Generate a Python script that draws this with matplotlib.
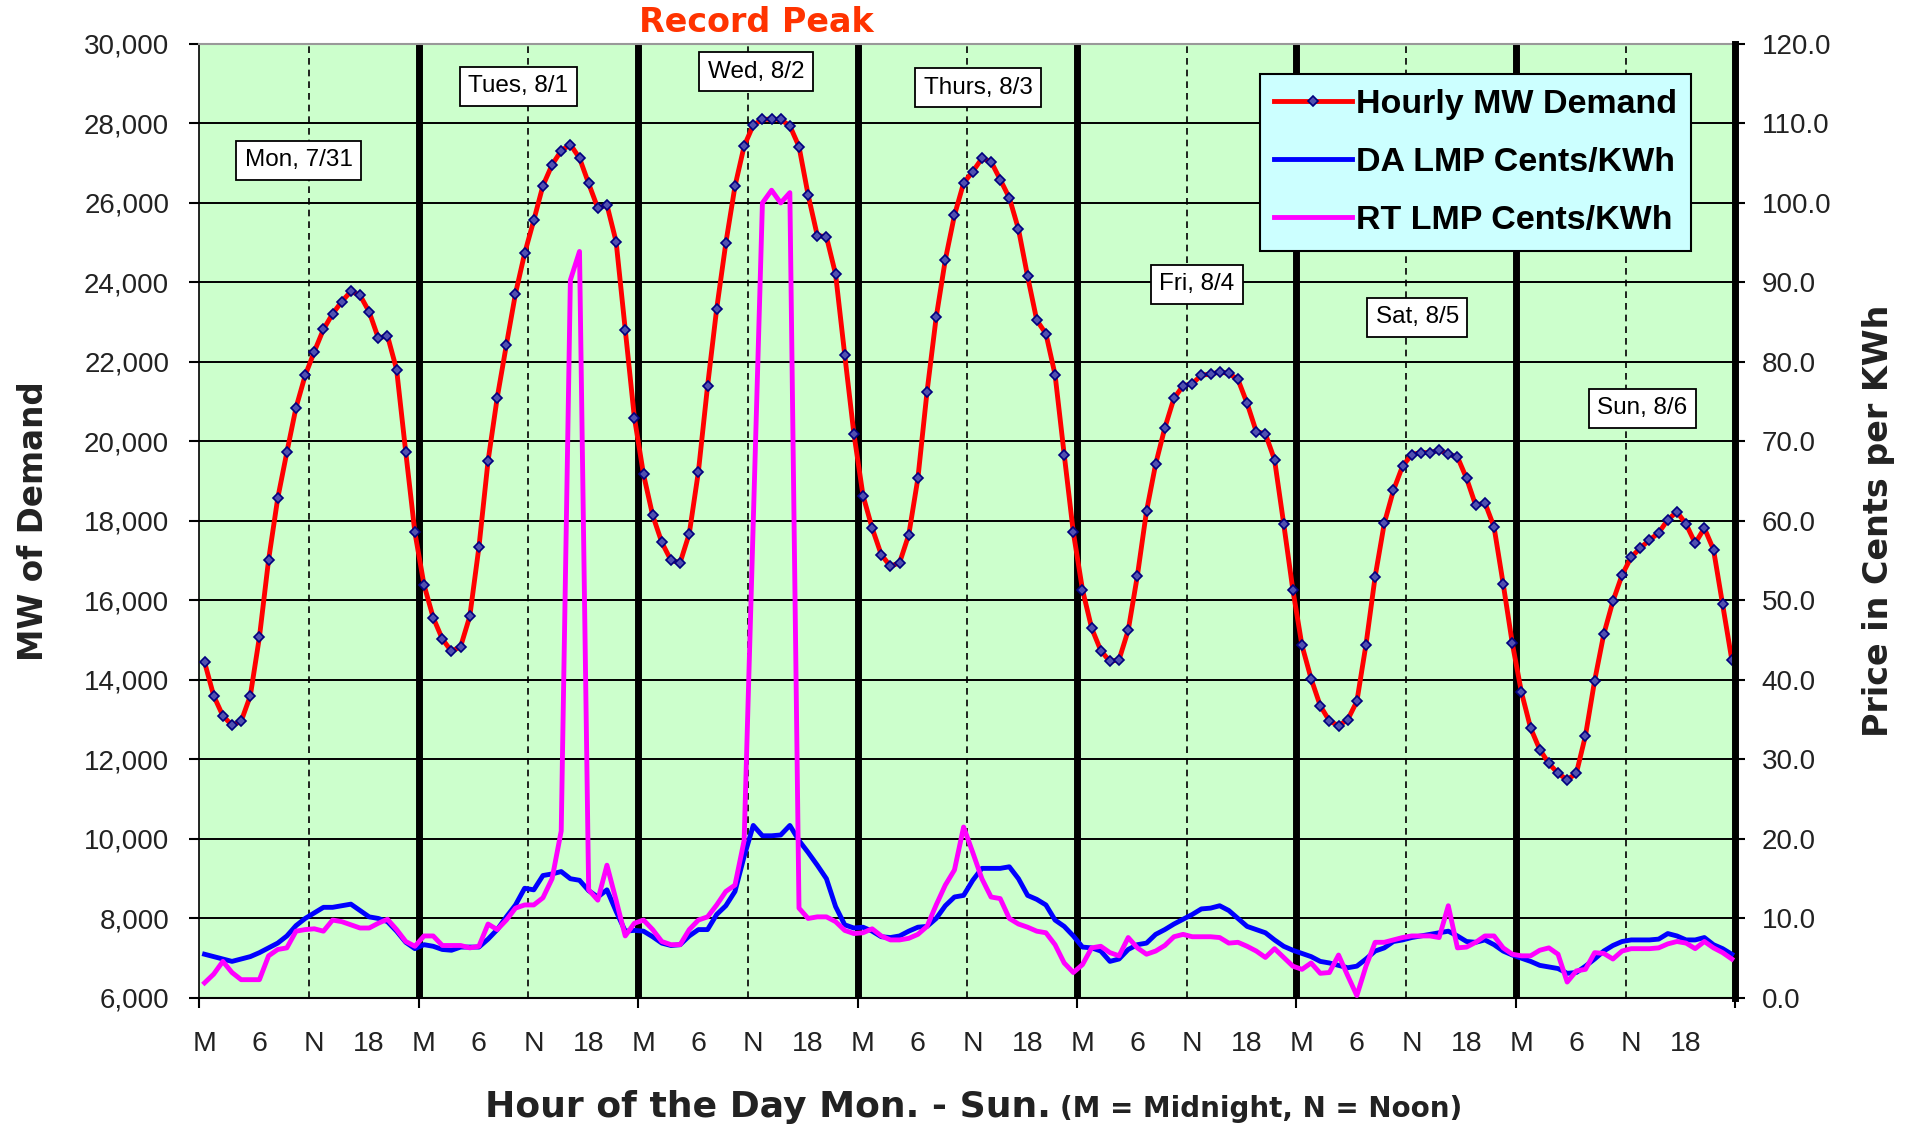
import numpy as np
import matplotlib.pyplot as plt
from matplotlib.lines import Line2D

# hourly values, Mon 7/31 .. Sun 8/6 (24 per row)
demand_mw = [
    14450, 13600, 13100, 12860, 12960, 13600, 15080, 17020, 18570, 19730, 20850, 21660,
    22260, 22820, 23210, 23520, 23775, 23680, 23260, 22600, 22660, 21810, 19730, 17710,
    16390, 15570, 15030, 14720, 14840, 15600, 17340, 19510, 21100, 22425, 23720, 24730,
    25565, 26435, 26960, 27315, 27470, 27130, 26490, 25870, 25950, 25030, 22810, 20600,
    19170, 18140, 17460, 17010, 16950, 17680, 19240, 21390, 23340, 24990, 26420, 27430,
    27960, 28100, 28110, 28100, 27940, 27420, 26200, 25180, 25150, 24210, 22180, 20200,
    18640, 17820, 17150, 16860, 16950, 17650, 19070, 21250, 23120, 24570, 25690, 26500,
    26790, 27120, 27040, 26590, 26130, 25340, 24150, 23050, 22710, 21680, 19670, 17710,
    16270, 15305, 14740, 14465, 14510, 15250, 16620, 18245, 19430, 20340, 21085, 21400,
    21450, 21670, 21690, 21750, 21710, 21560, 20960, 20250, 20190, 19540, 17930, 16270,
    14870, 14030, 13350, 12970, 12850, 13000, 13460, 14890, 16600, 17940, 18770, 19380,
    19670, 19720, 19720, 19780, 19680, 19610, 19070, 18390, 18460, 17850, 16420, 14920,
    13690, 12790, 12250, 11900, 11650, 11490, 11650, 12600, 13980, 15150, 15980, 16640,
    17090, 17320, 17520, 17700, 18030, 18230, 17920, 17440, 17820, 17280, 15900, 14510,
]

da_lmp = [
    5.5, 5.2, 4.9, 4.6, 4.9, 5.2, 5.7, 6.3, 6.9, 7.8, 9.1, 10.0,
    10.7, 11.4, 11.4, 11.6, 11.8, 11.0, 10.2, 10.0, 9.6, 8.4, 7.0, 6.2,
    6.7, 6.5, 6.1, 6.0, 6.4, 6.4, 6.4, 7.4, 8.6, 10.2, 11.7, 13.8,
    13.6, 15.4, 15.6, 15.9, 15.0, 14.8, 13.5, 12.7, 13.6, 10.9, 8.4, 8.5,
    8.4, 7.7, 6.9, 6.6, 6.7, 7.8, 8.6, 8.6, 10.5, 11.6, 13.4, 17.8,
    21.7, 20.4, 20.4, 20.5, 21.7, 19.8, 18.3, 16.7, 15.0, 11.5, 9.2, 8.8,
    8.9, 8.4, 7.7, 7.6, 7.8, 8.4, 8.9, 9.0, 10.0, 11.6, 12.7, 12.9,
    14.8, 16.3, 16.3, 16.3, 16.5, 15.0, 12.9, 12.4, 11.7, 9.8, 9.0, 7.8,
    6.4, 6.3, 5.9, 4.6, 4.9, 6.1, 6.7, 6.9, 8.0, 8.6, 9.3, 9.9,
    10.5, 11.2, 11.3, 11.6, 11.0, 10.0, 9.0, 8.6, 8.2, 7.3, 6.5, 6.0,
    5.6, 5.2, 4.6, 4.4, 4.1, 3.8, 4.0, 4.9, 5.9, 6.3, 7.1, 7.3,
    7.6, 7.8, 8.0, 8.2, 8.4, 7.8, 7.1, 7.0, 7.3, 6.7, 5.9, 5.4,
    5.0, 4.6, 4.1, 3.9, 3.7, 3.1, 3.2, 4.0, 4.9, 5.9, 6.6, 7.1,
    7.3, 7.3, 7.3, 7.4, 8.1, 7.8, 7.3, 7.3, 7.6, 6.7, 6.2, 5.5,
]

rt_lmp = [
    1.9, 3.0, 4.6, 3.2, 2.3, 2.3, 2.3, 5.3, 6.1, 6.3, 8.4, 8.6,
    8.7, 8.4, 9.8, 9.6, 9.2, 8.8, 8.8, 9.4, 9.9, 8.6, 7.1, 6.5,
    7.8, 7.8, 6.6, 6.6, 6.6, 6.3, 6.5, 9.3, 8.6, 9.8, 11.3, 11.7,
    11.7, 12.6, 15.0, 21.0, 90.3, 93.9, 13.6, 12.3, 16.7, 12.3, 7.8, 9.4,
    9.8, 8.6, 7.1, 6.7, 6.7, 8.6, 9.8, 10.2, 11.7, 13.4, 14.2, 19.8,
    60.0, 100.0, 101.6, 100.0, 101.3, 11.3, 10.0, 10.2, 10.2, 9.6, 8.5, 8.1,
    8.2, 8.7, 7.8, 7.3, 7.3, 7.5, 8.0, 9.0, 11.7, 14.2, 16.1, 21.5,
    18.3, 15.0, 12.7, 12.5, 10.0, 9.3, 8.9, 8.4, 8.2, 6.7, 4.4, 3.2,
    4.2, 6.3, 6.5, 5.7, 5.3, 7.6, 6.3, 5.5, 5.9, 6.6, 7.7, 8.0,
    7.7, 7.7, 7.7, 7.6, 6.9, 7.0, 6.5, 5.9, 5.1, 6.2, 5.1, 4.0,
    3.6, 4.4, 3.1, 3.2, 5.4, 2.8, 0.3, 4.0, 7.0, 7.0, 7.3, 7.6,
    7.8, 7.8, 7.8, 7.6, 11.6, 6.3, 6.4, 7.0, 7.8, 7.8, 6.3, 5.5,
    5.3, 5.3, 6.0, 6.3, 5.5, 2.0, 3.4, 3.6, 5.7, 5.6, 4.9, 5.9,
    6.2, 6.2, 6.2, 6.3, 6.8, 7.1, 6.9, 6.2, 7.1, 6.3, 5.7, 4.9,
]

day_names = ["Mon, 7/31", "Tues, 8/1", "Wed, 8/2", "Thurs, 8/3",
             "Fri, 8/4", "Sat, 8/5", "Sun, 8/6"]
hour_names = ["M", "6", "N", "18"]
series_names = ["Hourly MW Demand", "DA LMP Cents/KWh", "RT LMP Cents/KWh"]

# where the day boxes sit (hour, MW)
box_pos = [(10.9, 27070), (34.9, 28940), (60.9, 29300), (85.2, 28900),
           (109.1, 23950), (133.2, 23130), (157.8, 20830)]

hours = np.arange(len(demand_mw)) + 0.6
ndays = len(day_names)

fig = plt.figure(figsize=(19.05, 11.27), dpi=100)
ax = fig.add_axes([0.1045, 0.1145, 0.8065, 0.8465])
ax.set_facecolor('#CCFFCC')
ax.set_xlim(0, 24 * ndays)
ax.set_ylim(6000, 30000)

# grid
for y in range(8000, 30000, 2000):
    ax.axhline(y, color='black', lw=1.4, zorder=1)
for d in range(1, ndays):
    ax.axvline(24 * d, color='black', lw=5, zorder=1)
for d in range(ndays):
    ax.axvline(24 * d + 12, color='black', lw=1.2, ls=(0, (4, 3)), zorder=1)

ax.plot(hours, demand_mw, color='#FF0000', lw=3.5, marker='D', ms=5,
        mfc='#5050B0', mec='#000080', mew=1.2, zorder=4)

ax.set_yticks(range(6000, 30001, 2000))
ax.set_yticklabels([f"{v:,}" for v in range(6000, 30001, 2000)],
                   fontsize=20, family='Liberation Sans', color='#222222')
ax.tick_params(axis='y', length=7, width=1.5, pad=14.5)

ax.set_xticks([24 * d for d in range(ndays + 1)])
ax.set_xticklabels([])
ax.tick_params(axis='x', length=7, width=1.5)
lab_pos = [24 * d + h + 0.6 for d in range(ndays) for h in (0, 6, 12, 18)]
ax.set_xticks(lab_pos, minor=True)
ax.set_xticklabels(hour_names * ndays, minor=True, fontsize=20.5,
                   family='Liberation Sans', color='#222222')
ax.tick_params(axis='x', which='minor', length=0, pad=24)

ax.spines['right'].set_visible(False)
ax.spines['top'].set_color('#999999')
ax.spines['top'].set_linewidth(1.5)
ax.spines['left'].set_linewidth(1.2)
ax.spines['bottom'].set_linewidth(1.5)

for name, (bx, by) in zip(day_names, box_pos):
    ax.text(bx, by, name, ha='center', va='center', fontsize=17.5,
            family='Liberation Sans', zorder=6,
            bbox=dict(boxstyle='square,pad=0.35', fc='white', ec='black', lw=1.3))

ax2 = ax.twinx()
ax2.set_ylim(0, 120)
ax2.plot(hours, da_lmp, color='#0000FF', lw=3.5, zorder=3)
ax2.plot(hours, rt_lmp, color='#FF00FF', lw=3.5, zorder=3)
ax2.set_yticks(np.arange(0, 121, 10))
ax2.set_yticklabels([f"{v:.1f}" for v in np.arange(0, 121, 10)],
                    fontsize=20, family='Liberation Sans', color='#222222')
ax2.tick_params(axis='y', length=7, width=1.5, pad=12)
for s in ('left', 'top', 'bottom'):
    ax2.spines[s].set_visible(False)
ax2.spines['right'].set_linewidth(5)

handles = [
    Line2D([], [], color='#FF0000', lw=3.5, marker='D', ms=5,
           mfc='#5050B0', mec='#000080', mew=1.2),
    Line2D([], [], color='#0000FF', lw=3.5),
    Line2D([], [], color='#FF00FF', lw=3.5),
]
leg = ax2.legend(handles, series_names, loc='upper right',
                 bbox_to_anchor=(0.971, 0.968), borderaxespad=0,
                 prop={'family': 'Liberation Sans', 'weight': 'bold', 'size': 24.5},
                 handlelength=2.3, handletextpad=0.1, borderpad=0.42,
                 labelspacing=0.8, fancybox=False, framealpha=1,
                 facecolor='#CCFFFF', edgecolor='black')
leg.get_frame().set_linewidth(1.5)
leg.set_zorder(10)

fig.text(0.397, 0.980, "Record Peak", color='#FF3300', fontsize=24,
         weight='bold', ha='center', va='center')
fig.text(0.0175, 0.538, "MW of Demand", rotation=90, fontsize=23.5,
         weight='bold', ha='center', va='center', color='#222222')
fig.text(0.986, 0.538, "Price in Cents per KWh", rotation=90, fontsize=24,
         weight='bold', ha='center', va='center', color='#222222')
fig.text(0.2545, 0.009, "Hour of the Day Mon. - Sun.", fontsize=26,
         weight='bold', ha='left', va='baseline', color='#222222')
fig.text(0.5564, 0.009, "(M = Midnight, N = Noon)", fontsize=20,
         weight='bold', ha='left', va='baseline', color='#222222')

fig.savefig('out.png', dpi=100)
